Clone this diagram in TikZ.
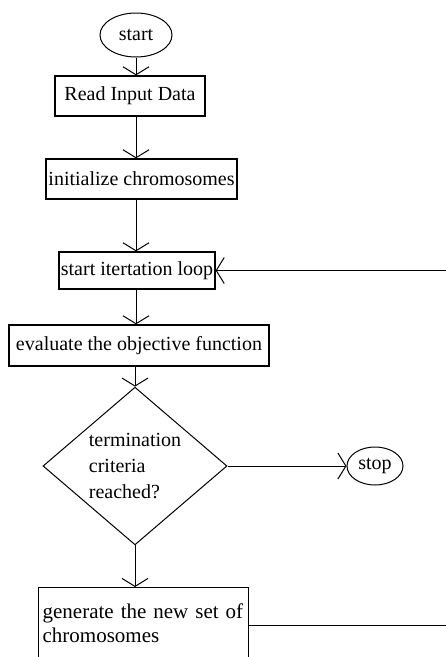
\documentclass[tikz,border=0pt]{standalone}
\usepackage{fontspec}
\setmainfont{Liberation Serif}
\usetikzlibrary{shapes.geometric,arrows.meta}
\newcommand{\flowfont}{\fontsize{20}{24}\selectfont}
\tikzset{
  box/.style={draw, line width=1.3pt, inner sep=0pt, font=\flowfont},
  term/.style={draw, ellipse, line width=1pt, inner sep=0pt, font=\flowfont},
  test/.style={draw, diamond, line width=1pt, inner sep=0pt, align=left,
    font=\fontsize{20}{26}\selectfont},
  flow/.style={line width=1pt, -{Straight Barb[length=8pt,width=26pt]}},
}

\begin{document}
\begin{tikzpicture}[x=1pt,y=-1pt]
      \clip (0,0) rectangle (446,657);
      % terminals
      \node[term, minimum width=72, minimum height=44] (start) at (136,35) {start};
      \node[term, minimum width=56, minimum height=38] (stop) at (375,466) {stop};

      % process boxes
      \node[box, minimum width=150, minimum height=40] (read) at (130,96) {Read Input Data};
      \node[box, minimum width=191, minimum height=40] (init) at (141.5,179) {initialize chromosomes};
      \node[box, minimum width=156, minimum height=37] (loop) at (137,270.5) {start itertation loop};
      \node[box, minimum width=260, minimum height=41] (eval) at (139,345.5) {evaluate the objective function};
      % this one runs off the bottom of the page
      \node[box, anchor=north west, align=left, text width=202, inner xsep=4, inner ysep=16,
        text depth=60, font=\fontsize{21}{24}\selectfont] (gen) at (38,587)
        {generate the new set of\\chromosomes};

      % decision
      \node[test, minimum width=184, minimum height=155] (crit) at (135,466)
        {termination\\criteria\\reached?};

      % main line
      \draw[flow] (start.south) -- (start.south |- read.north);
      \draw[flow] (read.south -| start) -- (init.north -| start);
      \draw[flow] (init.south -| start) -- (loop.north -| start);
      \draw[flow] (loop.south -| start) -- (eval.north -| start);
      \draw[flow] (eval.south -| crit) -- (crit.north);
      \draw[flow] (crit.south) -- (gen.north -| crit);
      \draw[flow] (crit.east) -- (stop.west);

      % back to the loop, the right side is cut off
      \coordinate (rt) at (470,0);
      \coordinate (genout) at ([yshift=-38pt]gen.north east);
      \draw[flow] (genout) -- (rt |- genout) -- (rt |- loop.east) -- (loop.east);
    \end{tikzpicture}
\end{document}
